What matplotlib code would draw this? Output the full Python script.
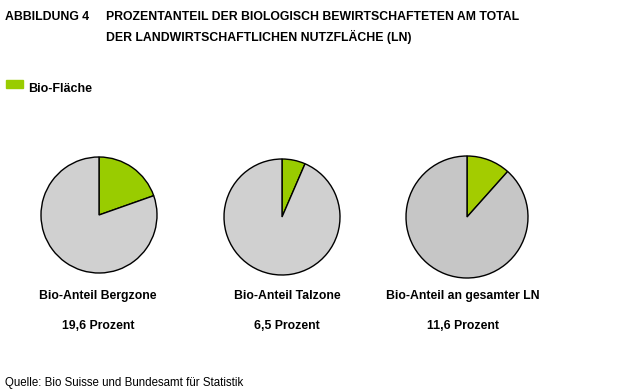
import matplotlib
matplotlib.use("Agg")
import matplotlib.pyplot as plt

W, H = 620, 392

# data
labels = ["Bio-Anteil Bergzone", "Bio-Anteil Talzone", "Bio-Anteil an gesamter LN"]
bio_share = [19.6, 6.5, 11.6]
value_labels = ["19,6 Prozent", "6,5 Prozent", "11,6 Prozent"]
legend_label = "Bio-Fläche"

GREEN = ["#99cc00", "#99cc00", "#a3cc00"]
GREY = ["#d0d0d0", "#d0d0d0", "#c6c6c6"]

# pie layout in pixels: (center x, center y, radius)
pies = [(99, 215, 58), (282, 217, 58), (467, 217, 61)]
text_x = [98, 287, 463]

plt.rcParams["font.family"] = ["Liberation Sans", "DejaVu Sans"]
fig = plt.figure(figsize=(W / 100, H / 100), dpi=100)
fig.patch.set_facecolor("white")


def fx(x):
    return x / W


def fy(y):
    return 1 - y / H


for i, (cx, cy, r) in enumerate(pies):
    pad = r + 2
    ax = fig.add_axes([fx(cx - pad), fy(cy + pad), 2 * pad / W, 2 * pad / H])
    v = bio_share[i]
    ax.pie([v, 100 - v], colors=[GREEN[i], GREY[i]], startangle=90,
           counterclock=False, radius=r / pad,
           wedgeprops={"edgecolor": "black", "linewidth": 1.0})
    ax.set_xlim(-1, 1); ax.set_ylim(-1, 1)
    ax.set_aspect("equal")
    ax.axis("off")
    fig.text(fx(text_x[i]), fy(296), labels[i], ha="center", va="center",
             fontsize=8.8, fontweight="bold")
    fig.text(fx(text_x[i]), fy(326), value_labels[i], ha="center", va="center",
             fontsize=8.8, fontweight="bold")

fig.text(fx(5), fy(17), "ABBILDUNG 4", ha="left", va="center",
         fontsize=8.8, fontweight="bold")
fig.text(fx(106), fy(17), "PROZENTANTEIL DER BIOLOGISCH BEWIRTSCHAFTETEN AM TOTAL",
         ha="left", va="center", fontsize=8.8, fontweight="bold")
fig.text(fx(106), fy(37), "DER LANDWIRTSCHAFTLICHEN NUTZFLÄCHE (LN)",
         ha="left", va="center", fontsize=8.8, fontweight="bold")

# legend
fig.patches.append(plt.Rectangle((fx(6), fy(88)), 17 / W, 8 / H,
                                 transform=fig.transFigure, color=GREEN[0]))
fig.text(fx(28), fy(89), legend_label, ha="left", va="center",
         fontsize=9, fontweight="bold")

fig.text(fx(5), fy(383), "Quelle: Bio Suisse und Bundesamt für Statistik",
         ha="left", va="center", fontsize=8.3)

fig.savefig("out.png", dpi=100)
